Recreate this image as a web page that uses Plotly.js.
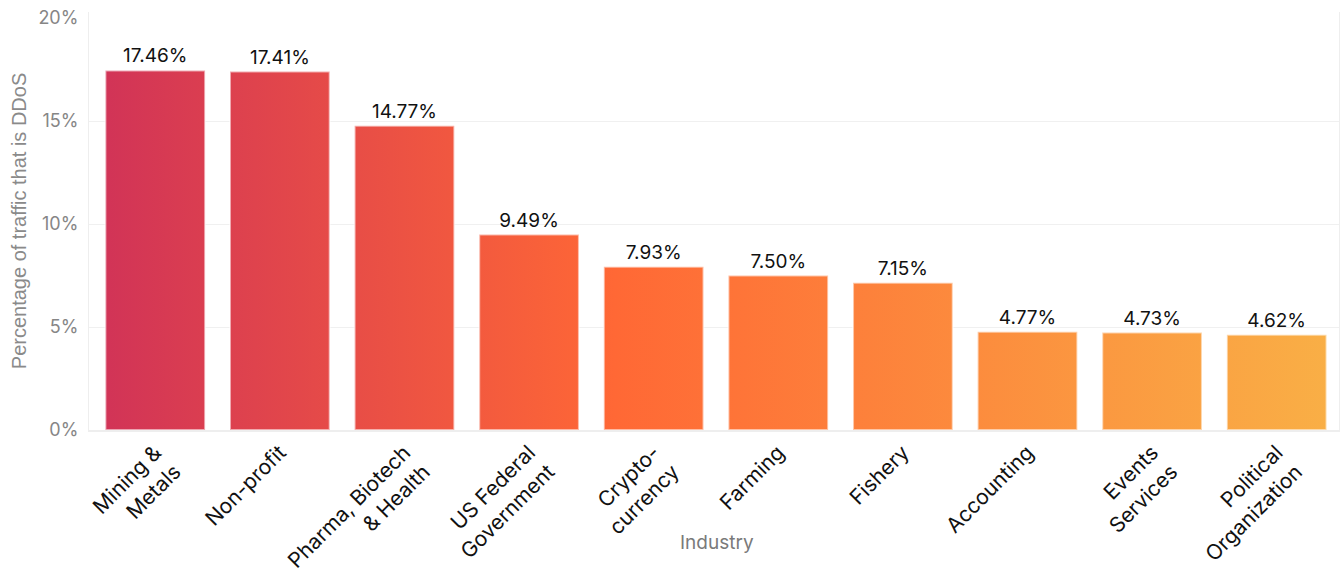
<!DOCTYPE html>
<html>
<head>
<meta charset="utf-8">
<script src="https://cdn.plot.ly/plotly-3.0.1.min.js"></script>
<style>
  html, body { margin: 0; padding: 0; background: #ffffff; }
  #chart { width: 1340px; height: 576px; }
</style>
</head>
<body>
<div id="chart"></div>
<script>
// Data
const industries = [
  "Mining &<br>Metals",
  "Non-profit",
  "Pharma, Biotech<br>& Health",
  "US Federal<br>Government",
  "Crypto-<br>currency",
  "Farming",
  "Fishery",
  "Accounting",
  "Events<br>Services",
  "Political<br>Organization"
];
const ddosShare = [17.46, 17.41, 14.77, 9.49, 7.93, 7.50, 7.15, 4.77, 4.73, 4.62];
const valueLabels = ["17.46%", "17.41%", "14.77%", "9.49%", "7.93%", "7.50%", "7.15%", "4.77%", "4.73%", "4.62%"];
const yTickVals = [0, 5, 10, 15, 20];
const yTickText = ["0%", "5%", "10%", "15%", "20%"];
const gridVals = [5, 10, 15];

// Gradient colour stops (left -> right across the plot)
const gradStops = [
  [0.00, [208, 50, 88]],
  [0.42, [255, 104, 53]],
  [1.00, [249, 176, 70]]
];
function gradAt(t) {
  for (let i = 0; i < gradStops.length - 1; i++) {
    const a = gradStops[i], b = gradStops[i + 1];
    if (t >= a[0] && t <= b[0]) {
      const f = (t - a[0]) / (b[0] - a[0]);
      const c = a[1].map((v, k) => Math.round(v + (b[1][k] - v) * f));
      return 'rgb(' + c.join(',') + ')';
    }
  }
  return 'rgb(' + gradStops[gradStops.length - 1][1].join(',') + ')';
}
const barColors = ddosShare.map((v, i) => gradAt((i + 0.5) / ddosShare.length));

const FONT = "Inter, 'Noto Sans', 'DejaVu Sans', sans-serif";

const trace = {
  type: 'bar',
  x: industries,
  y: ddosShare,
  text: valueLabels,
  textposition: 'outside',
  texttemplate: '%{text}',
  cliponaxis: false,
  textfont: { family: FONT, size: 19, color: '#111111' },
  marker: {
    color: barColors,
    line: { color: 'rgba(255,255,255,0.55)', width: 2 }
  },
  hoverinfo: 'none'
};

const layout = {
  width: 1340,
  height: 576,
  margin: { l: 89, r: 1, t: 12, b: 146, pad: 0 },
  paper_bgcolor: '#ffffff',
  plot_bgcolor: '#ffffff',
  showlegend: false,
  bargap: 0.2,
  font: { family: FONT, color: '#111111' },
  xaxis: {
    type: 'category',
    tickangle: -45,
    tickfont: { family: FONT, size: 21, color: '#111111' },
    showgrid: false,
    showline: true,
    linecolor: '#eeeeee',
    linewidth: 2,
    ticks: '',
    zeroline: false,
    automargin: false
  },
  yaxis: {
    range: [0, 20.3],
    tickvals: yTickVals,
    ticktext: yTickText,
    tickfont: { family: FONT, size: 18, color: '#868686' },
    showgrid: false,
    zeroline: false,
    showline: true,
    mirror: true,
    linecolor: '#eeeeee',
    linewidth: 1,
    ticks: 'outside',
    ticklen: 6,
    tickcolor: 'rgba(0,0,0,0)',
    automargin: false,
    title: {
      text: 'Percentage of traffic that is DDoS',
      font: { family: "'Liberation Sans', Arial, sans-serif", size: 20, color: '#8a8a8a' },
      standoff: 6
    }
  },
  yaxis2: {
    overlaying: 'y',
    matches: 'y',
    tickvals: gridVals,
    showticklabels: false,
    showgrid: true,
    gridcolor: '#f0f0f0',
    gridwidth: 1,
    zeroline: false,
    showline: false
  },
  annotations: [{
    text: 'Industry',
    xref: 'paper', yref: 'paper',
    x: 0.5024, y: -0.27,
    xanchor: 'center', yanchor: 'middle',
    showarrow: false,
    font: { family: FONT, size: 19, color: '#7a7a7a' }
  }]
};

// invisible trace to activate the grid axis
const gridTrace = {
  type: 'scatter', x: [industries[0]], y: [0], yaxis: 'y2',
  mode: 'markers', marker: { opacity: 0 }, hoverinfo: 'none', showlegend: false
};

Plotly.newPlot('chart', [gridTrace, trace], layout, { staticPlot: true, displayModeBar: false }).then(function (gd) {
  // apply a horizontal gradient spanning the whole plot area to the bars
  const svg = gd.querySelector('svg.main-svg');
  const ns = 'http://www.w3.org/2000/svg';
  const plotW = gd._fullLayout._size.w;
  let defs = svg.querySelector('defs');
  if (!defs) { defs = document.createElementNS(ns, 'defs'); svg.insertBefore(defs, svg.firstChild); }
  const lg = document.createElementNS(ns, 'linearGradient');
  lg.setAttribute('id', 'ddosBarGrad');
  lg.setAttribute('gradientUnits', 'userSpaceOnUse');
  lg.setAttribute('x1', '0'); lg.setAttribute('y1', '0');
  lg.setAttribute('x2', String(plotW)); lg.setAttribute('y2', '0');
  gradStops.forEach(function (s) {
    const st = document.createElementNS(ns, 'stop');
    st.setAttribute('offset', String(s[0]));
    st.setAttribute('stop-color', 'rgb(' + s[1].join(',') + ')');
    lg.appendChild(st);
  });
  defs.appendChild(lg);
  gd.querySelectorAll('.barlayer .point path').forEach(function (p) {
    p.style.fill = 'url(#ddosBarGrad)';
  });
});
</script>
</body>
</html>
